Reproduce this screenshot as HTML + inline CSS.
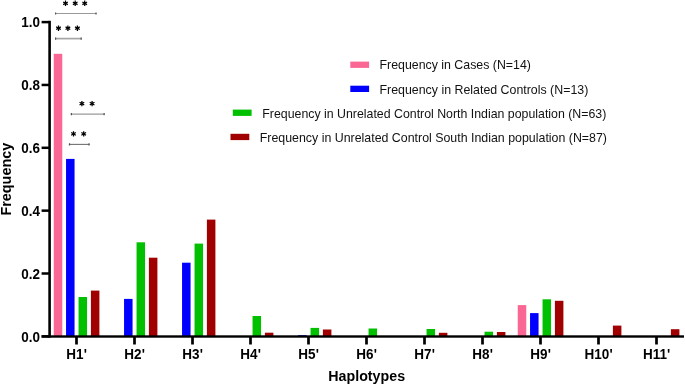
<!DOCTYPE html>
<html><head><meta charset="utf-8"><style>
html,body{margin:0;padding:0;background:#fff;}
svg{display:block;will-change:transform;}
text{font-family:"Liberation Sans",sans-serif;fill:#000;}
.yl{font-weight:bold;font-size:14px;}
.lg{font-size:12.4px;fill:#111;}
.al{font-weight:bold;font-size:14.4px;}
</style></head><body>
<svg width="685" height="386" viewBox="0 0 685 386">
<rect x="53.75" y="53.80" width="8.5" height="282.60" fill="#FB6794"/>
<rect x="66.05" y="158.90" width="8.5" height="177.50" fill="#0000FF"/>
<rect x="78.55" y="297.00" width="8.5" height="39.40" fill="#00C000"/>
<rect x="90.90" y="290.60" width="8.5" height="45.80" fill="#A00000"/>
<rect x="124.05" y="298.90" width="8.5" height="37.50" fill="#0000FF"/>
<rect x="136.55" y="242.30" width="8.5" height="94.10" fill="#00C000"/>
<rect x="148.90" y="257.70" width="8.5" height="78.70" fill="#A00000"/>
<rect x="182.05" y="262.70" width="8.5" height="73.70" fill="#0000FF"/>
<rect x="194.55" y="243.60" width="8.5" height="92.80" fill="#00C000"/>
<rect x="206.90" y="219.60" width="8.5" height="116.80" fill="#A00000"/>
<rect x="252.55" y="316.00" width="8.5" height="20.40" fill="#00C000"/>
<rect x="264.90" y="332.70" width="8.5" height="3.70" fill="#A00000"/>
<rect x="298.05" y="335.20" width="8.5" height="1.20" fill="#0000FF"/>
<rect x="310.55" y="327.90" width="8.5" height="8.50" fill="#00C000"/>
<rect x="322.90" y="329.50" width="8.5" height="6.90" fill="#A00000"/>
<rect x="368.55" y="328.50" width="8.5" height="7.90" fill="#00C000"/>
<rect x="426.55" y="329.00" width="8.5" height="7.40" fill="#00C000"/>
<rect x="438.90" y="332.80" width="8.5" height="3.60" fill="#A00000"/>
<rect x="484.55" y="331.70" width="8.5" height="4.70" fill="#00C000"/>
<rect x="496.90" y="332.00" width="8.5" height="4.40" fill="#A00000"/>
<rect x="517.75" y="305.10" width="8.5" height="31.30" fill="#FB6794"/>
<rect x="530.05" y="313.10" width="8.5" height="23.30" fill="#0000FF"/>
<rect x="542.55" y="299.30" width="8.5" height="37.10" fill="#00C000"/>
<rect x="554.90" y="300.80" width="8.5" height="35.60" fill="#A00000"/>
<rect x="612.90" y="325.60" width="8.5" height="10.80" fill="#A00000"/>
<rect x="670.90" y="329.20" width="8.5" height="7.20" fill="#A00000"/>
<rect x="48.3" y="20.8" width="2.6" height="316.8" fill="#000"/>
<rect x="41.6" y="335.3" width="642.4" height="2.4" fill="#000"/>
<rect x="41.6" y="20.85" width="8" height="2.5" fill="#000"/>
<text transform="translate(39.9,27.00) scale(0.96,1)" text-anchor="end" class="yl">1.0</text>
<rect x="41.6" y="83.70" width="8" height="2.5" fill="#000"/>
<text transform="translate(39.9,89.85) scale(0.96,1)" text-anchor="end" class="yl">0.8</text>
<rect x="41.6" y="146.55" width="8" height="2.5" fill="#000"/>
<text transform="translate(39.9,152.70) scale(0.96,1)" text-anchor="end" class="yl">0.6</text>
<rect x="41.6" y="209.40" width="8" height="2.5" fill="#000"/>
<text transform="translate(39.9,215.55) scale(0.96,1)" text-anchor="end" class="yl">0.4</text>
<rect x="41.6" y="272.25" width="8" height="2.5" fill="#000"/>
<text transform="translate(39.9,278.80) scale(0.96,1)" text-anchor="end" class="yl">0.2</text>
<rect x="41.6" y="335.10" width="8" height="2.5" fill="#000"/>
<text transform="translate(39.9,342.15) scale(0.96,1)" text-anchor="end" class="yl">0.0</text>
<rect x="75.15" y="336" width="2.7" height="8.5" fill="#000"/>
<text transform="translate(76.60,359) scale(0.965,1)" text-anchor="middle" class="yl">H1&#39;</text>
<rect x="133.15" y="336" width="2.7" height="8.5" fill="#000"/>
<text transform="translate(134.60,359) scale(0.965,1)" text-anchor="middle" class="yl">H2&#39;</text>
<rect x="191.15" y="336" width="2.7" height="8.5" fill="#000"/>
<text transform="translate(192.60,359) scale(0.965,1)" text-anchor="middle" class="yl">H3&#39;</text>
<rect x="249.15" y="336" width="2.7" height="8.5" fill="#000"/>
<text transform="translate(250.60,359) scale(0.965,1)" text-anchor="middle" class="yl">H4&#39;</text>
<rect x="307.15" y="336" width="2.7" height="8.5" fill="#000"/>
<text transform="translate(308.60,359) scale(0.965,1)" text-anchor="middle" class="yl">H5&#39;</text>
<rect x="365.15" y="336" width="2.7" height="8.5" fill="#000"/>
<text transform="translate(366.60,359) scale(0.965,1)" text-anchor="middle" class="yl">H6&#39;</text>
<rect x="423.15" y="336" width="2.7" height="8.5" fill="#000"/>
<text transform="translate(424.60,359) scale(0.965,1)" text-anchor="middle" class="yl">H7&#39;</text>
<rect x="481.15" y="336" width="2.7" height="8.5" fill="#000"/>
<text transform="translate(482.60,359) scale(0.965,1)" text-anchor="middle" class="yl">H8&#39;</text>
<rect x="539.15" y="336" width="2.7" height="8.5" fill="#000"/>
<text transform="translate(540.60,359) scale(0.965,1)" text-anchor="middle" class="yl">H9&#39;</text>
<rect x="597.15" y="336" width="2.7" height="8.5" fill="#000"/>
<text transform="translate(598.60,359) scale(0.965,1)" text-anchor="middle" class="yl">H10&#39;</text>
<rect x="655.15" y="336" width="2.7" height="8.5" fill="#000"/>
<text transform="translate(656.60,359) scale(0.965,1)" text-anchor="middle" class="yl">H11&#39;</text>
<path d="M55 13.5H96.6" stroke="#999" stroke-width="1.2" fill="none"/>
<path d="M55.6 12.4V14.6M96.0 12.4V14.6" stroke="#555" stroke-width="1.2" fill="none"/>
<path d="M55 38.6H81.75" stroke="#a5a5a5" stroke-width="1.7" fill="none"/>
<path d="M55.6 37.5V39.7M81.15 37.5V39.7" stroke="#555" stroke-width="1.2" fill="none"/>
<path d="M70.8 114.1H104.7" stroke="#999" stroke-width="1.4" fill="none"/>
<path d="M71.39999999999999 113.0V115.19999999999999M104.10000000000001 113.0V115.19999999999999" stroke="#555" stroke-width="1.2" fill="none"/>
<path d="M68.9 144.4H89.6" stroke="#707070" stroke-width="1.1" fill="none"/>
<path d="M69.5 143.3V145.5M89.0 143.3V145.5" stroke="#555" stroke-width="1.2" fill="none"/>
<path d="M65.50 0.60L65.50 6.00M63.16 1.95L67.84 4.65M67.84 1.95L63.16 4.65M75.20 0.60L75.20 6.00M72.86 1.95L77.54 4.65M77.54 1.95L72.86 4.65M84.70 0.60L84.70 6.00M82.36 1.95L87.04 4.65M87.04 1.95L82.36 4.65M58.50 25.50L58.50 30.90M56.16 26.85L60.84 29.55M60.84 26.85L56.16 29.55M67.90 25.50L67.90 30.90M65.56 26.85L70.24 29.55M70.24 26.85L65.56 29.55M77.40 25.50L77.40 30.90M75.06 26.85L79.74 29.55M79.74 26.85L75.06 29.55M81.90 100.90L81.90 106.30M79.56 102.25L84.24 104.95M84.24 102.25L79.56 104.95M92.10 100.90L92.10 106.30M89.76 102.25L94.44 104.95M94.44 102.25L89.76 104.95M73.50 131.20L73.50 136.60M71.16 132.55L75.84 135.25M75.84 132.55L71.16 135.25M83.70 131.20L83.70 136.60M81.36 132.55L86.04 135.25M86.04 132.55L81.36 135.25" stroke="#000" stroke-width="1.25" fill="none"/>
<rect x="350.3" y="61.6" width="18.8" height="6.3" fill="#FB6794"/>
<text x="379.5" y="69.4" class="lg" textLength="151.4" lengthAdjust="spacingAndGlyphs">Frequency in Cases (N=14)</text>
<rect x="350.3" y="85.7" width="18.8" height="6.3" fill="#0000FF"/>
<text x="379.5" y="93.5" class="lg" textLength="208.8" lengthAdjust="spacingAndGlyphs">Frequency in Related Controls (N=13)</text>
<rect x="232.8" y="109.6" width="18.8" height="6.3" fill="#00C000"/>
<text x="262.29999999999995" y="117.9" class="lg" textLength="344.0" lengthAdjust="spacingAndGlyphs">Frequency in Unrelated Control North Indian population (N=63)</text>
<rect x="230.5" y="133.8" width="18.8" height="6.3" fill="#A00000"/>
<text x="259.7" y="141.8" class="lg" textLength="347.3" lengthAdjust="spacingAndGlyphs">Frequency in Unrelated Control South Indian population (N=87)</text>
<text transform="translate(366.7,381.4) scale(0.99,1)" text-anchor="middle" class="al">Haplotypes</text>
<text transform="translate(10.9,179.2) rotate(-90)" text-anchor="middle" class="al">Frequency</text>
</svg>
</body></html>
